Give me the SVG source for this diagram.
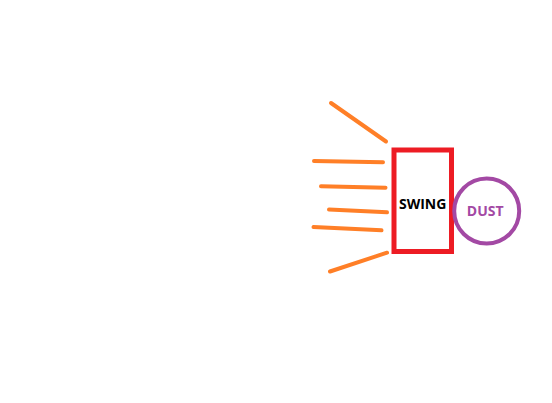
<svg xmlns="http://www.w3.org/2000/svg" width="552" height="403" viewBox="0 0 552 403">
<style>
.ray{stroke:#FF7F27;stroke-width:4;stroke-linecap:round;fill:none}
.lbl{font-family:"Open Sans","Liberation Sans",sans-serif;font-weight:bold;font-size:14px;text-anchor:middle}
</style>
<rect width="552" height="403" fill="#fff"/>
<g id="connectors">
<line class="ray" x1="331" y1="103" x2="386" y2="141.5"/>
<line class="ray" x1="314" y1="161" x2="383" y2="162.3"/>
<line class="ray" x1="321" y1="186.3" x2="385.5" y2="187.7"/>
<line class="ray" x1="329" y1="209.5" x2="387" y2="212.3"/>
<line class="ray" x1="313.5" y1="227" x2="381.5" y2="230.3"/>
<line class="ray" x1="330" y1="271.5" x2="387" y2="252.7"/>
</g>
<g id="swing">
<rect x="394" y="150" width="57.5" height="101.5" fill="none" stroke="#ED1C24" stroke-width="5"/>
<text class="lbl" x="422.7" y="209" fill="#000">SWING</text>
</g>
<g id="dust">
<circle cx="486.7" cy="211" r="32.5" fill="none" stroke="#A349A4" stroke-width="4"/>
<text class="lbl" x="485.2" y="215.7" fill="#A349A4">DUST</text>
</g>
</svg>
